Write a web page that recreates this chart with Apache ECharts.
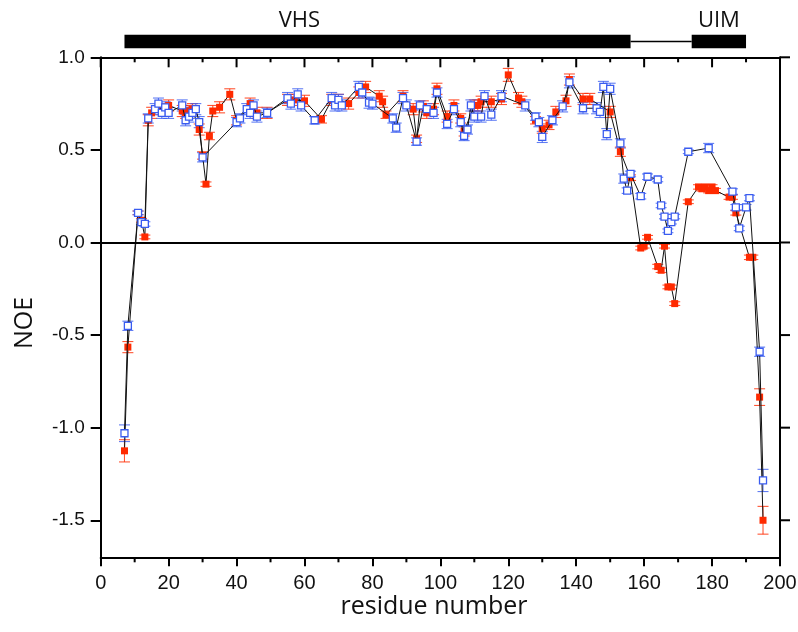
<!DOCTYPE html>
<html>
<head>
<meta charset="utf-8">
<script src="https://cdn.jsdelivr.net/npm/echarts@6/dist/echarts.min.js"></script>
<style>html,body{margin:0;padding:0;background:#fff}#c{width:798px;height:632px}</style>
</head>
<body>
<div id="c"></div>
<script>
// ---- data ----
const blueRes = [7,8,11,12,13,14,16,17,18,19,20,24,25,26,27,28,29,30,40,41,43,44,45,46,49,55,56,58,59,63,68,69,70,71,76,77,79,80,86,87,89,90,93,94,96,98,99,102,104,106,107,108,109,110,112,113,115,118,125,128,129,130,133,136,138,142,146,147,148,149,150,153,154,155,156,159,161,164,165,166,167,168,169,173,179,186,187,188,190,191,194,195];
const blueNoe = [-1.03,-0.45,0.16,0.11,0.10,0.67,0.72,0.75,0.70,0.73,0.70,0.74,0.66,0.68,0.70,0.72,0.65,0.46,0.65,0.67,0.72,0.70,0.74,0.68,0.70,0.78,0.75,0.80,0.74,0.66,0.78,0.74,0.77,0.74,0.84,0.81,0.755,0.75,0.67,0.62,0.78,0.74,0.545,0.74,0.72,0.70,0.81,0.64,0.72,0.65,0.575,0.61,0.74,0.68,0.68,0.79,0.69,0.79,0.74,0.68,0.65,0.57,0.66,0.735,0.865,0.725,0.725,0.705,0.84,0.585,0.83,0.535,0.345,0.28,0.37,0.25,0.355,0.34,0.20,0.14,0.063,0.11,0.14,0.49,0.51,0.275,0.19,0.076,0.19,0.24,-0.59,-1.285];
const blueErr = [0.045,0.025,0.01,0.012,0.012,0.025,0.03,0.03,0.03,0.03,0.03,0.03,0.03,0.03,0.03,0.03,0.03,0.025,0.025,0.025,0.03,0.03,0.03,0.03,0.025,0.03,0.03,0.03,0.03,0.02,0.03,0.03,0.03,0.03,0.03,0.03,0.03,0.03,0.025,0.025,0.03,0.03,0.02,0.025,0.03,0.03,0.025,0.025,0.03,0.025,0.025,0.025,0.03,0.03,0.03,0.03,0.03,0.03,0.03,0.02,0.025,0.03,0.025,0.03,0.03,0.03,0.03,0.03,0.03,0.03,0.03,0.025,0.025,0.015,0.015,0.015,0.015,0.012,0.012,0.012,0.01,0.01,0.012,0.01,0.025,0.015,0.015,0.012,0.015,0.015,0.025,0.06];

const redRes = [7,8,11,12,13,14,15,18,20,24,25,26,27,29,30,31,32,33,35,38,40,44,46,49,55,57,60,65,68,70,73,76,78,82,83,84,89,92,93,95,96,98,99,102,104,106,107,110,111,112,115,118,120,123,124,128,130,132,134,137,138,142,144,150,153,156,159,160,161,164,165,166,167,168,169,173,176,177,178,179,180,181,185,186,187,191,192,194,195];
const redNoe = [-1.125,-0.565,0.16,0.12,0.03,0.66,0.70,0.72,0.74,0.71,0.70,0.71,0.72,0.61,0.47,0.315,0.575,0.71,0.73,0.80,0.66,0.75,0.70,0.70,0.77,0.77,0.765,0.665,0.77,0.77,0.75,0.81,0.84,0.79,0.76,0.69,0.79,0.72,0.56,0.735,0.70,0.72,0.83,0.68,0.74,0.67,0.60,0.74,0.74,0.76,0.76,0.775,0.905,0.78,0.76,0.66,0.615,0.635,0.705,0.765,0.88,0.775,0.775,0.705,0.49,0.35,-0.03,-0.02,0.028,-0.13,-0.15,-0.02,-0.24,-0.24,-0.33,0.22,0.30,0.29,0.30,0.28,0.30,0.28,0.245,0.245,0.16,-0.08,-0.08,-0.835,-1.50];
const redErr = [0.06,0.03,0.01,0.01,0.01,0.03,0.03,0.03,0.03,0.03,0.03,0.03,0.03,0.03,0.02,0.012,0.02,0.03,0.03,0.03,0.025,0.03,0.03,0.03,0.03,0.03,0.03,0.02,0.03,0.03,0.03,0.03,0.03,0.03,0.03,0.02,0.03,0.03,0.02,0.03,0.03,0.03,0.03,0.03,0.03,0.025,0.025,0.03,0.03,0.03,0.03,0.03,0.035,0.03,0.03,0.02,0.025,0.025,0.03,0.03,0.03,0.03,0.03,0.03,0.025,0.015,0.01,0.01,0.01,0.012,0.012,0.01,0.01,0.01,0.01,0.01,0.012,0.012,0.012,0.012,0.012,0.012,0.012,0.012,0.012,0.012,0.012,0.045,0.075];

const xMajorTicks = [0,20,40,60,80,100,120,140,160,180,200];
const xMinorTicks = [10,30,50,70,90,110,130,150,170,190];
const yTicks = [-1.5,-1.0,-0.5,0.0,0.5,1.0];

const domainStart = [7,174];
const domainEnd = [156,190];
const domainName = ['VHS','UIM'];
const domainLabelX = [58.5,182];
const linker = [156,174];

// ---- build ----
const blueData = blueRes.map((r,i)=>[r,blueNoe[i]]);
const redData = redRes.map((r,i)=>[r,redNoe[i]]);
const blueErrData = blueRes.map((r,i)=>[r,blueNoe[i],blueErr[i]]);
const redErrData = redRes.map((r,i)=>[r,redNoe[i],redErr[i]]);
const BLUE = '#3a5cf0', RED = '#ff2a00';

function errRender(color){
  return function(params, api){
    const x=api.value(0), y=api.value(1), e=api.value(2);
    const hi=api.coord([x,y+e]), lo=api.coord([x,y-e]);
    const w=5.5;
    const st={stroke:color,lineWidth:1.1,opacity:0.8};
    return {type:'group',children:[
      {type:'line',shape:{x1:hi[0],y1:hi[1],x2:lo[0],y2:lo[1]},style:st},
      {type:'line',shape:{x1:hi[0]-w,y1:hi[1],x2:hi[0]+w,y2:hi[1]},style:st},
      {type:'line',shape:{x1:lo[0]-w,y1:lo[1],x2:lo[0]+w,y2:lo[1]},style:st}
    ]};
  };
}

// frame ticks: [value, kind]  kind 0=bottom minor, 1=top major, 2=top minor, 3=right major
const frameTickData = []
  .concat(xMinorTicks.map(v=>[v,0]))
  .concat(xMajorTicks.map(v=>[v,1]))
  .concat(xMinorTicks.map(v=>[v,2]))
  .concat(yTicks.map(v=>[v,3]));

const domainData = domainStart.map((s,i)=>[s,domainEnd[i],domainLabelX[i],i]);

const chart = echarts.init(document.getElementById('c'), null, {renderer:'canvas'});
const tickFont = 'Liberation Sans';
const titleFont = 'Open Sans';
function axLine(){ return {show:true,onZero:false,lineStyle:{color:'#000',width:2}}; }
chart.setOption({
  animation:false,
  grid:{left:100.7,right:18,top:57.3,bottom:74.7,containLabel:false,outerBoundsMode:'none'},
  graphic:[
    {type:'text',x:434,y:607,style:{text:'residue number',font:'25px "Open Sans"',fill:'#111',align:'center',verticalAlign:'middle'}},
    {type:'text',x:25,y:323,rotation:Math.PI/2,style:{text:'NOE',font:'25px "Open Sans"',fill:'#111',align:'center',verticalAlign:'middle'}}
  ],
  xAxis:[{
    type:'value',min:0,max:200,interval:20,position:'bottom',
    axisLine:axLine(),
    axisTick:{show:true,inside:false,length:9,lineStyle:{color:'#000',width:2}},
    axisLabel:{show:true,margin:16,fontFamily:tickFont,fontSize:20,color:'#111'},
    splitLine:{show:false}
  },{
    type:'value',min:0,max:200,interval:20,position:'top',
    axisLine:axLine(),axisTick:{show:false},axisLabel:{show:false},splitLine:{show:false}
  }],
  yAxis:[{
    type:'value',min:-1.7,max:1.0,position:'left',
    axisLine:axLine(),
    axisTick:{show:true,inside:false,length:10,customValues:yTicks,lineStyle:{color:'#000',width:2}},
    axisLabel:{show:true,margin:16,fontFamily:tickFont,fontSize:19,color:'#111',customValues:yTicks,
      formatter:v=>v.toFixed(1)},
    splitLine:{show:false}
  },{
    type:'value',min:-1.7,max:1.0,position:'right',
    axisLine:axLine(),axisTick:{show:false},axisLabel:{show:false},splitLine:{show:false}
  }],
  series:[
    {type:'custom',name:'domains',xAxisIndex:0,yAxisIndex:0,clip:false,silent:true,z:5,
      data:domainData,
      renderItem:function(params, api){
        const s=api.value(0), e=api.value(1), lx=api.value(2), idx=api.value(3);
        const topY=api.coord([0,1.0])[1];
        const p0=api.coord([s,1.0]), p1=api.coord([e,1.0]);
        const children=[
          {type:'rect',shape:{x:p0[0],y:topY-22.5,width:p1[0]-p0[0],height:13.5},style:{fill:'#000'}},
          {type:'text',style:{text:domainName[idx],x:api.coord([lx,1.0])[0],y:topY-37,
            fill:'#111',font:'22px "Open Sans"',align:'center',verticalAlign:'middle'}}
        ];
        if(idx===0){
          const l0=api.coord([linker[0],1.0]), l1=api.coord([linker[1],1.0]);
          children.push({type:'line',shape:{x1:l0[0],y1:topY-15.8,x2:l1[0],y2:topY-15.8},style:{stroke:'#000',lineWidth:1.5}});
        }
        return {type:'group',children:children};
      }
    },
    {type:'custom',name:'frameTicks',clip:false,silent:true,z:6,data:frameTickData,
      renderItem:function(params, api){
        const v=api.value(0), k=api.value(1);
        const st={stroke:'#000',lineWidth:2};
        let x1,y1,x2,y2;
        if(k===0){ const p=api.coord([v,-1.7]); x1=p[0];y1=p[1];x2=p[0];y2=p[1]+5; }
        else if(k===1){ const p=api.coord([v,1.0]); x1=p[0];y1=p[1];x2=p[0];y2=p[1]+10; }
        else if(k===2){ const p=api.coord([v,1.0]); x1=p[0];y1=p[1];x2=p[0];y2=p[1]+5; }
        else { const p=api.coord([200,v]); x1=p[0];y1=p[1];x2=p[0]+10;y2=p[1]; }
        return {type:'line',shape:{x1:x1,y1:y1,x2:x2,y2:y2},style:st};
      }
    },
    {type:'line',name:'axesAnchor',xAxisIndex:1,yAxisIndex:1,data:[[0,0]],silent:true,
      symbol:'none',lineStyle:{opacity:0},showSymbol:false},
    {type:'custom',name:'redErr',data:redErrData,renderItem:errRender(RED),silent:true,z:2},
    {type:'custom',name:'blueErr',data:blueErrData,renderItem:errRender(BLUE),silent:true,z:2},
    {type:'line',name:'red',data:redData,symbol:'rect',symbolSize:7,showSymbol:true,z:3,
      lineStyle:{color:'#111',width:1},itemStyle:{color:RED,borderWidth:0},
      emphasis:{disabled:true},silent:true},
    {type:'line',name:'blue',data:blueData,symbol:'rect',symbolSize:7,showSymbol:true,z:4,
      lineStyle:{color:'#111',width:1},itemStyle:{color:'#fff',borderColor:BLUE,borderWidth:1.3},
      emphasis:{disabled:true},silent:true,
      markLine:{silent:true,symbol:['none','none'],label:{show:false},
        lineStyle:{color:'#000',width:2,type:'solid'},data:[{yAxis:0}]}}
  ]
});
</script>
</body>
</html>
